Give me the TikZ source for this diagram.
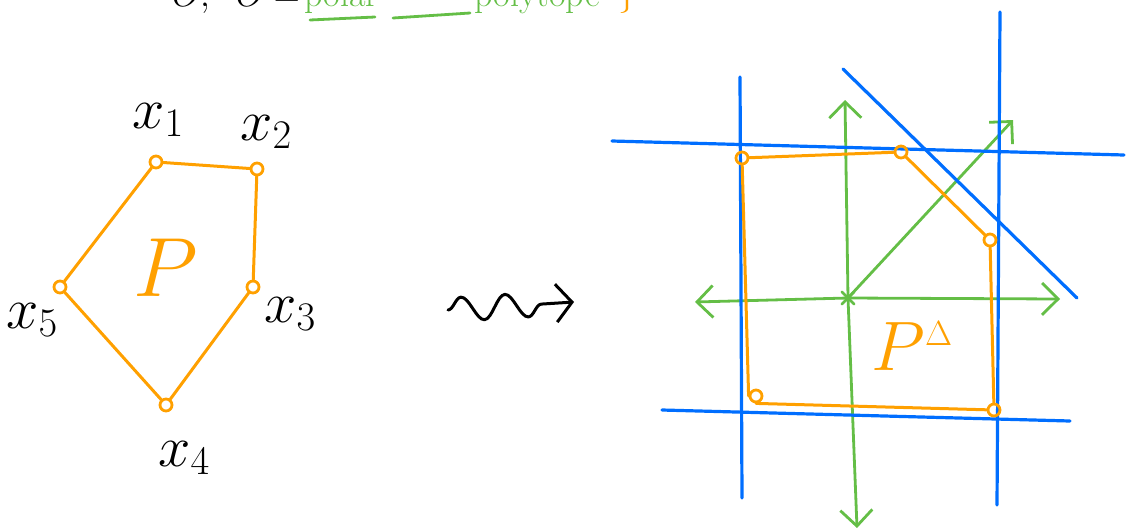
\RequirePackage{fix-cm}
\documentclass[tikz,border=0pt]{standalone}
\usepackage{amsmath,amssymb}
\usepackage{tikz}
\usetikzlibrary{arrows.meta,positioning,decorations.pathmorphing,shapes.misc}
\usepackage{xcolor}
\definecolor{penorange}{RGB}{255,160,0}
\definecolor{penblue}{RGB}{0,110,255}
\definecolor{pengreen}{RGB}{100,190,70}

\begin{document}
\begin{tikzpicture}[x=1pt, y=-1pt,
  line cap=round, line join=round,
  font=\fontsize{58}{62}\selectfont,
  vtx/.style={circle, draw=penorange, line width=2.8pt, minimum size=12pt, inner sep=0pt},
  poly/.style={draw=penorange, line width=3pt},
  hyper/.style={draw=penblue, line width=3.2pt},
  axis/.style={draw=pengreen, line width=2.8pt, -{Straight Barb[length=16pt, width=32pt, line width=2.8pt]}},
  lbl/.style={inner sep=0pt},
  headtxt/.style={inner sep=0pt, anchor=base west, font=\fontsize{36}{40}\selectfont}]
\useasboundingbox (0,0) rectangle (1126,531);
\clip (0,0) rectangle (1126,531);

% cut-off heading
\node[headtxt] (head) at (172,6) {$O,\;\; O =$};
\node[headtxt, text=pengreen] (polar) at (304,6) {polar};
\node[headtxt, text=pengreen] (ptope) at (474,6) {polytope};
\node[headtxt, text=penorange] (brace) at (618,4) {$\}$};
\coordinate (ua) at (310,20); \coordinate (ub) at (375,17);
\coordinate (uc) at (393,18); \coordinate (ud) at (470,13);
\draw[pengreen, line width=2.8pt] (ua) -- (ub);
\draw[pengreen, line width=2.8pt] (uc) -- (ud);

% polytope P
\node[vtx] (x1) at (156,162) {};
\node[vtx] (x2) at (257,169) {};
\node[vtx] (x3) at (253,287) {};
\node[vtx] (x4) at (166,405) {};
\node[vtx] (x5) at (60,287) {};
\draw[poly] (x1) -- (x2);
\draw[poly] (x2) -- (x3);
\draw[poly] (x3) -- (x4);
\draw[poly] (x4) -- (x5);
\draw[poly] (x5) -- (x1);
\node[lbl] (l1) at (158,120) {$x_1$};
\node[lbl] (l2) at (266,132) {$x_2$};
\node[lbl] (l3) at (290,314) {$x_3$};
\node[lbl] (l4) at (184,458) {$x_4$};
\node[lbl] (l5) at (32,320) {$x_5$};
\node[lbl, text=penorange] (pp) at (166,268) {\fontsize{84}{88}\selectfont$P$};

% leads to
\coordinate (wa) at (448,310);
\coordinate (wb) at (574,302);
\draw[line width=3pt, decorate,
  decoration={snake, amplitude=12pt, segment length=44pt, post length=16pt},
  -{Straight Barb[length=16pt, width=38pt, line width=3pt]}] (wa) -- (wb);

% polar polytope
\coordinate (o) at (848,298);
\coordinate (up) at (845,100);
\coordinate (dn) at (857,528);
\coordinate (lt) at (695,302);
\coordinate (rt) at (1060,299);
\coordinate (dg) at (1013,120);
\draw[axis] (o) -- (up);
\draw[axis] (o) -- (dn);
\draw[axis] (o) -- (lt);
\draw[axis] (o) -- (rt);
\draw[axis] (o) -- (dg);
\node[cross out, draw=pengreen, line width=2.6pt, minimum size=10pt, inner sep=0pt] (om) at (o) {};

\coordinate (vla) at (740,77);  \coordinate (vlb) at (742,498);
\coordinate (vra) at (1000,12); \coordinate (vrb) at (997,505);
\coordinate (hta) at (612,141); \coordinate (htb) at (1124,155);
\coordinate (hba) at (662,410); \coordinate (hbb) at (1070,421);
\coordinate (dga) at (843,69);  \coordinate (dgb) at (1077,298);
\draw[hyper] (vla) -- (vlb);
\draw[hyper] (vra) -- (vrb);
\draw[hyper] (hta) -- (htb);
\draw[hyper] (hba) -- (hbb);
\draw[hyper] (dga) -- (dgb);

\node[vtx] (q1) at (742,158) {};
\node[vtx] (q2) at (901,152) {};
\node[vtx] (q3) at (990,240) {};
\node[vtx] (q4) at (994,410) {};
\node[vtx] (q5) at (756,396) {};
\draw[poly] (q1) -- (q2);
\draw[poly] (q2) -- (q3);
\draw[poly] (q3) -- (q4);
\draw[poly] (q4) -- (q5.south);
\draw[poly] (q5.west) -- (q1);
\node[lbl, text=penorange] (pd) at (912,346) {\fontsize{70}{74}\selectfont$P^{\scriptscriptstyle\Delta}$};
\end{tikzpicture}
\end{document}
